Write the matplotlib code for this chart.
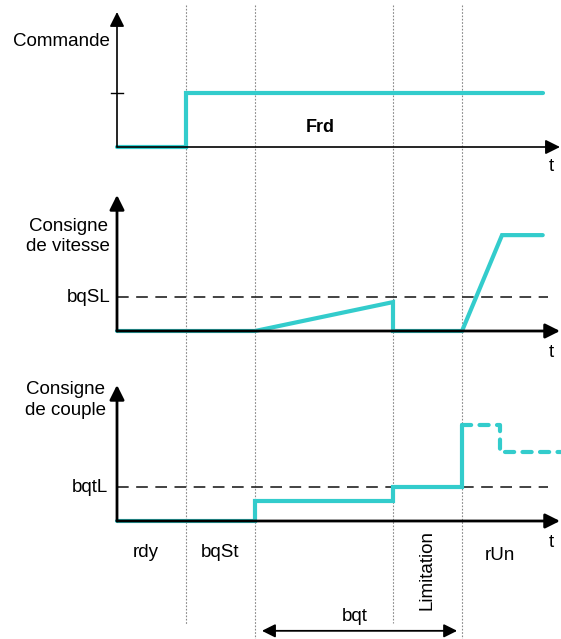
import matplotlib.pyplot as plt
import numpy as np

plt.rcParams['font.family'] = ['Liberation Sans', 'DejaVu Sans']

# temps des evenements (1 unite = une phase)
t_events = [1, 2, 4, 5]
t_axis_end = 6.42

# Commande
commande_t = [0, 1, 1, 6.17]
commande_v = [0, 0, 1, 1]

# Consigne de vitesse
bqSL = 1.0
vitesse_t = [0, 2, 4, 4, 5, 5.58, 6.17]
vitesse_v = [0, 0, 0.85, 0, 0, 2.82, 2.82]

# Consigne de couple
bqtL = 1.0
couple_t = [0, 2, 2, 4, 4, 5, 5]
couple_v = [0, 0, 0.59, 0.59, 1.0, 1.0, 2.82]
couple_run_t = [5, 5.55, 5.55, 6.43]
couple_run_v = [2.82, 2.82, 2.03, 2.03]

phase_labels = ['rdy', 'bqSt', 'Limitation', 'rUn']

cyan = '#33CCCC'
W, H = 561, 639
px = 69.0
x0 = 117
xlim = (-x0 / px, (W - x0) / px)

fig = plt.figure(figsize=(W / 100, H / 100), dpi=100)

# fond : lignes pointillees verticales
bg = fig.add_axes([0, 0, 1, 1])
bg.set_xlim(xlim)
bg.set_ylim(H, 0)
bg.axis('off')
ends = [624, 639, 623, 639]
for t, e in zip(t_events, ends):
    bg.plot([t, t], [5, e], color='#888888', lw=0.8, ls=(0, (1.5, 1.5)))


def panel(top, bottom, base, unit):
    ax = fig.add_axes([0, 1 - bottom / H, 1, (bottom - top) / H])
    ax.set_xlim(xlim)
    ax.set_ylim((base - bottom) / unit, (base - top) / unit)
    ax.axis('off')
    ax.patch.set_alpha(0)
    return ax


def axes_arrows(ax, ytop, lw):
    ax.annotate('', xy=(0, ytop), xytext=(0, 0),
                arrowprops=dict(arrowstyle='-|>', color='black', lw=lw,
                                mutation_scale=22, shrinkA=0, shrinkB=0))
    ax.annotate('', xy=(t_axis_end, 0), xytext=(0, 0),
                arrowprops=dict(arrowstyle='-|>', color='black', lw=lw,
                                mutation_scale=22, shrinkA=0, shrinkB=0))


fs = 13.5

# Panneau 1
ax1 = panel(0, 180, 147, 54)
axes_arrows(ax1, 2.5, 1.2)
ax1.plot([-0.09, 0.09], [1, 1], color='black', lw=1.0)
ax1.plot(commande_t, commande_v, color=cyan, lw=3, solid_capstyle='round',
         solid_joinstyle='miter')
ax1.text(-0.1, 1.95, 'Commande', ha='right', va='center', fontsize=fs)
ax1.text(2.94, 0.37, 'Frd', ha='center', va='center', fontsize=fs - 0.5,
         fontweight='bold')
ax1.text(6.3, -0.37, 't', ha='center', va='center', fontsize=fs)

# Panneau 2
ax2 = panel(180, 370, 331, 34)
axes_arrows(ax2, 4.0, 2.0)
ax2.plot([0, 6.25], [bqSL, bqSL], color='#222222', lw=1.2, ls=(0, (7, 4.5)))
ax2.plot(vitesse_t, vitesse_v, color=cyan, lw=3, solid_capstyle='round',
         solid_joinstyle='miter')
ax2.text(-0.1, 2.78, 'Consigne\nde vitesse', ha='right', va='center',
         fontsize=fs, linespacing=1.3, multialignment='center')
ax2.text(-0.1, bqSL, 'bqSL', ha='right', va='center', fontsize=fs)
ax2.text(6.3, -0.62, 't', ha='center', va='center', fontsize=fs)

# Panneau 3
ax3 = panel(370, 639, 521, 34)
axes_arrows(ax3, 4.0, 2.0)
ax3.plot([0, 6.25], [bqtL, bqtL], color='#222222', lw=1.2, ls=(0, (7, 4.5)))
ax3.plot(couple_t, couple_v, color=cyan, lw=3, solid_capstyle='round',
         solid_joinstyle='miter')
ax3.plot(couple_run_t, couple_run_v, color=cyan, lw=3, ls=(0, (2.2, 2)),
         dash_capstyle='round')
ax3.text(-0.16, 3.55, 'Consigne\nde couple', ha='right', va='center',
         fontsize=fs, linespacing=1.3, multialignment='center')
ax3.text(-0.13, bqtL, 'bqtL', ha='right', va='center', fontsize=fs)
ax3.text(6.3, -0.62, 't', ha='center', va='center', fontsize=fs)

# etiquettes des phases
ly = -0.94
ax3.text(0.42, ly, phase_labels[0], ha='center', va='center', fontsize=fs)
ax3.text(1.5, ly, phase_labels[1], ha='center', va='center', fontsize=fs)
ax3.text(4.49, -1.44, phase_labels[2], ha='center', va='center',
         fontsize=fs, rotation=90)
ax3.text(5.55, -1.0, phase_labels[3], ha='center', va='center', fontsize=fs)

# duree bqt
ax3.annotate('', xy=(2.1, -3.23), xytext=(4.93, -3.23),
             arrowprops=dict(arrowstyle='<|-|>', color='black', lw=1.3,
                             mutation_scale=20, shrinkA=0, shrinkB=0))
ax3.text(3.45, -2.8, 'bqt', ha='center', va='center', fontsize=fs)

fig.savefig('out.png', dpi=100)
